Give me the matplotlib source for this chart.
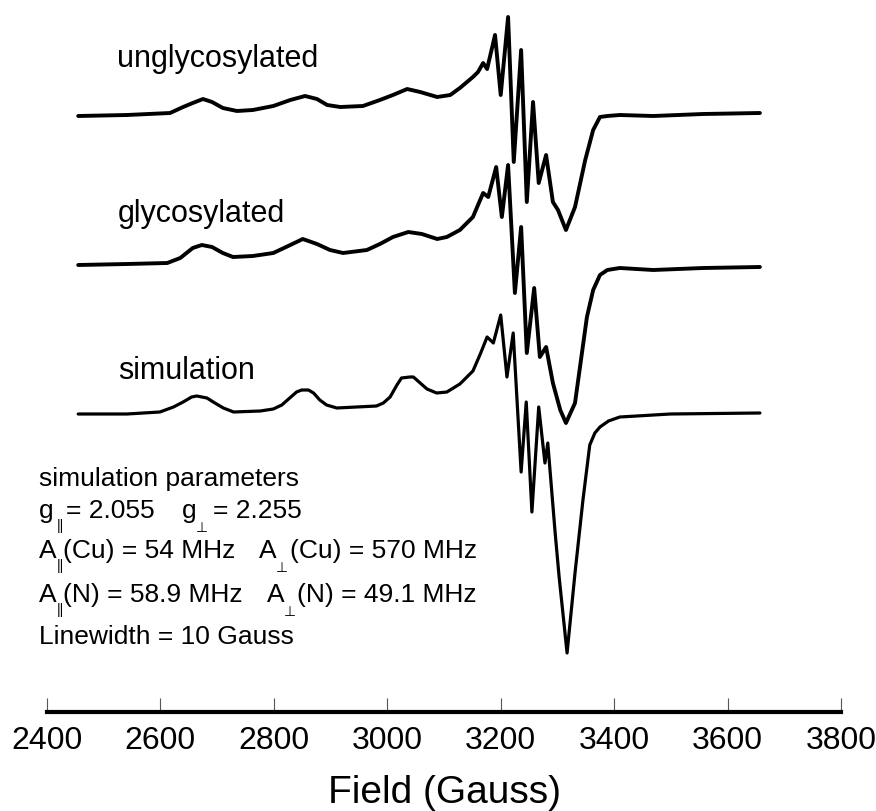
import numpy as np
import matplotlib
matplotlib.use("Agg")
import matplotlib.pyplot as plt

plt.rcParams['font.family'] = ['Liberation Sans', 'DejaVu Sans']

# EPR spectra: field (Gauss) and derivative signal (arb. units)
unglyc_field = [2455, 2541, 2617, 2640, 2657, 2675, 2691, 2710, 2735, 2763, 2799, 2829,
                2855, 2876, 2894, 2917, 2957, 2987, 3010, 3035, 3058, 3088, 3111, 3128,
                3151, 3160, 3169, 3176, 3190, 3200, 3213, 3223, 3236, 3246, 3257, 3267,
                3280, 3292, 3301, 3315, 3331, 3349, 3363, 3375, 3388, 3410, 3469, 3557,
                3657]
unglyc_signal = [0, 1, 3, 9, 13, 17, 14, 8, 5, 6, 10, 16,
                 20, 17, 11, 9, 10, 16, 21, 27, 24, 19, 21, 28,
                 39, 44, 53, 47, 81, 21, 99, -46, 66, -86, 14, -67,
                 -39, -86, -94, -114, -91, -44, -14, -1, 0, 1, 0, 2,
                 3]

glyc_field = [2455, 2541, 2612, 2635, 2657, 2673, 2691, 2710, 2728, 2763, 2799, 2829,
              2851, 2876, 2899, 2922, 2964, 2987, 3010, 3037, 3061, 3088, 3105, 3128,
              3151, 3169, 3178, 3192, 3202, 3213, 3225, 3236, 3246, 3259, 3269, 3280,
              3292, 3305, 3315, 3331, 3352, 3363, 3375, 3388, 3410, 3469, 3557, 3657]
glyc_signal = [0, 1, 2, 7, 17, 20, 18, 12, 8, 9, 12, 20,
               26, 21, 15, 12, 15, 21, 28, 33, 31, 26, 28, 35,
               48, 72, 68, 98, 48, 100, -28, 38, -88, -23, -92, -82,
               -118, -145, -158, -138, -52, -25, -10, -5, -3, -5, -3, -2]

sim_field = [2455, 2541, 2599, 2623, 2640, 2655, 2664, 2682, 2696, 2711, 2729, 2776,
             2799, 2814, 2828, 2840, 2849, 2861, 2870, 2881, 2893, 2911, 2981, 2993,
             3005, 3017, 3025, 3040, 3046, 3058, 3070, 3087, 3105, 3128, 3151, 3164,
             3176, 3187, 3200, 3211, 3222, 3236, 3245, 3255, 3267, 3278, 3283, 3296,
             3303, 3317, 3331, 3345, 3357, 3366, 3375, 3390, 3410, 3440, 3499, 3657]
sim_signal = [0, 0, 2, 7, 12, 17, 18, 16, 11, 6, 2, 3,
              5, 9, 16, 22, 24, 24, 21, 14, 9, 6, 8, 11,
              17, 29, 36, 37, 37, 31, 25, 21, 22, 30, 43, 60,
              77, 71, 99, 37, 81, -58, 12, -98, 7, -49, -29, -119,
              -163, -239, -159, -86, -31, -19, -13, -7, -3, -2, 0, 1]

trace_labels = ['unglycosylated', 'glycosylated', 'simulation']
field_ticks = [2400, 2600, 2800, 3000, 3200, 3400, 3600, 3800]

W, H = 876, 811
fig = plt.figure(figsize=(W / 100, H / 100), dpi=100)
ax = fig.add_axes([47 / W, (H - 712) / H, 794 / W, 712 / H])


def fx(x, y):
    # pixel position -> figure fraction
    return x / W, 1 - y / H


# stacked traces, offsets in the same units as the signal
offsets = [-116, -265, -414]
traces = [(unglyc_field, unglyc_signal, 2.8),
          (glyc_field, glyc_signal, 2.8),
          (sim_field, sim_signal, 2.3)]
for (f, s, lw), off in zip(traces, offsets):
    ax.plot(f, np.array(s) + off, color='black', lw=lw,
            solid_joinstyle='round', solid_capstyle='round')

ax.set_xlim(2400, 3800)
ax.set_ylim(-712, 0)
ax.set_yticks([])
for side in ['top', 'left', 'right']:
    ax.spines[side].set_visible(False)
ax.spines['bottom'].set_linewidth(3.0)
ax.set_xticks(field_ticks)
ax.set_xticklabels([str(t) for t in field_ticks])
ax.tick_params(axis='x', direction='in', length=10, width=0.8, color='#555555',
               labelsize=23, pad=10)
ax.patch.set_alpha(0)

fig.text(*fx(444, 803), 'Field (Gauss)', fontsize=28, ha='center', va='baseline')

# trace names
for lab, (x, y) in zip(trace_labels, [(117, 67), (118, 222), (118, 379)]):
    fig.text(*fx(x, y), lab, fontsize=22, va='baseline')

# simulation parameters block
fs = 19
fig.text(*fx(39, 486), 'simulation parameters', fontsize=fs, va='baseline')
fig.text(*fx(39, 644), 'Linewidth = 10 Gauss', fontsize=fs, va='baseline')

rows = [
    (518, [(39, 'g', 0), (57, '||', 1), (66, '= 2.055', 0),
           (182, 'g', 0), (196, '\u22a5', 2), (213, '= 2.255', 0)]),
    (558, [(39, 'A', 0), (57, '||', 1), (63, '(Cu) = 54 MHz', 0),
           (259, 'A', 0), (276, '\u22a5', 2), (290, '(Cu) = 570 MHz', 0)]),
    (602, [(39, 'A', 0), (57, '||', 1), (63, '(N) = 58.9 MHz', 0),
           (267, 'A', 0), (284, '\u22a5', 2), (297, '(N) = 49.1 MHz', 0)]),
]
for base, parts in rows:
    for x, txt, kind in parts:
        if kind == 0:
            fig.text(*fx(x, base), txt, fontsize=fs, va='baseline')
        elif kind == 1:
            fig.text(*fx(x, base + 12), txt, fontsize=10, va='baseline')
        else:
            fig.text(*fx(x, base + 14), txt, fontsize=10, va='baseline')

fig.savefig('out.png', dpi=100)
